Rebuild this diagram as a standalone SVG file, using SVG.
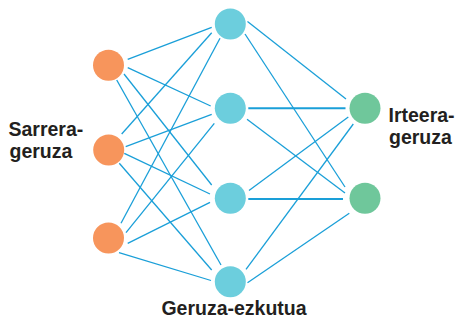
<svg xmlns="http://www.w3.org/2000/svg" width="457" height="323" viewBox="0 0 457 323">
<style>
.bg{fill:#ffffff}
.edge{stroke:#1a9fd8;stroke-width:1.3;fill:none;stroke-linecap:butt}
.edge.h{stroke-width:1.9}
.in{fill:#f7955c}
.hid{fill:#6ccedd}
.out{fill:#6fc79b}
.lbl{font-family:"Liberation Sans",Arial,sans-serif;font-weight:bold;font-size:19.5px;fill:#231f20}
</style>
<rect class="bg" x="0" y="0" width="457" height="323"/>
<g id="connectors">
<line class="edge" x1="127.7" y1="59.3" x2="211.7" y2="27.3"/>
<line class="edge" x1="127.7" y1="67.7" x2="210.7" y2="106"/>
<line class="edge" x1="124" y1="74" x2="211.7" y2="185"/>
<line class="edge" x1="116.7" y1="80" x2="221" y2="265"/>
<line class="edge" x1="121.7" y1="134" x2="211.7" y2="32.7"/>
<line class="edge" x1="125.7" y1="146.7" x2="211.7" y2="114.3"/>
<line class="edge" x1="124.3" y1="153.3" x2="210" y2="194"/>
<line class="edge" x1="119.3" y1="163.3" x2="211.7" y2="270"/>
<line class="edge" x1="121" y1="223.3" x2="220" y2="38.3"/>
<line class="edge" x1="126" y1="232.7" x2="214.3" y2="123.3"/>
<line class="edge" x1="127.7" y1="243.3" x2="210" y2="202.3"/>
<line class="edge" x1="119" y1="252.7" x2="211" y2="280.5"/>
<line class="edge" x1="247.5" y1="21.5" x2="346" y2="99"/>
<line class="edge" x1="245" y1="34" x2="345" y2="187"/>
<line class="edge h" x1="248.3" y1="108.3" x2="345.5" y2="108.3"/>
<line class="edge" x1="247" y1="119.3" x2="345" y2="193"/>
<line class="edge" x1="249" y1="190.5" x2="348.3" y2="117"/>
<line class="edge h" x1="248.3" y1="199" x2="343" y2="199"/>
<line class="edge" x1="246" y1="269.3" x2="353.3" y2="124"/>
<line class="edge" x1="247.5" y1="282.7" x2="349.3" y2="213.3"/>
</g>
<g id="input-1"><circle class="in" cx="108.5" cy="65.2" r="15.5"/></g>
<g id="input-2"><circle class="in" cx="108.7" cy="150" r="15.5"/></g>
<g id="input-3"><circle class="in" cx="108.5" cy="238" r="15.5"/></g>
<g id="hidden-1"><circle class="hid" cx="230.3" cy="24" r="15.5"/></g>
<g id="hidden-2"><circle class="hid" cx="230.3" cy="108.3" r="15.5"/></g>
<g id="hidden-3"><circle class="hid" cx="230.3" cy="198.3" r="15.5"/></g>
<g id="hidden-4"><circle class="hid" cx="230.3" cy="281.7" r="15.5"/></g>
<g id="output-1"><circle class="out" cx="365" cy="108.3" r="15.5"/></g>
<g id="output-2"><circle class="out" cx="365" cy="198.3" r="15.5"/></g>
<g id="label-input">
<text class="lbl" x="8.5" y="136">Sarrera-</text>
<text class="lbl" x="9.5" y="158">geruza</text>
</g>
<g id="label-output">
<text class="lbl" x="388.5" y="122">Irteera-</text>
<text class="lbl" x="389" y="144">geruza</text>
</g>
<g id="label-hidden">
<text class="lbl" x="234" y="315" text-anchor="middle">Geruza-ezkutua</text>
</g>
</svg>
